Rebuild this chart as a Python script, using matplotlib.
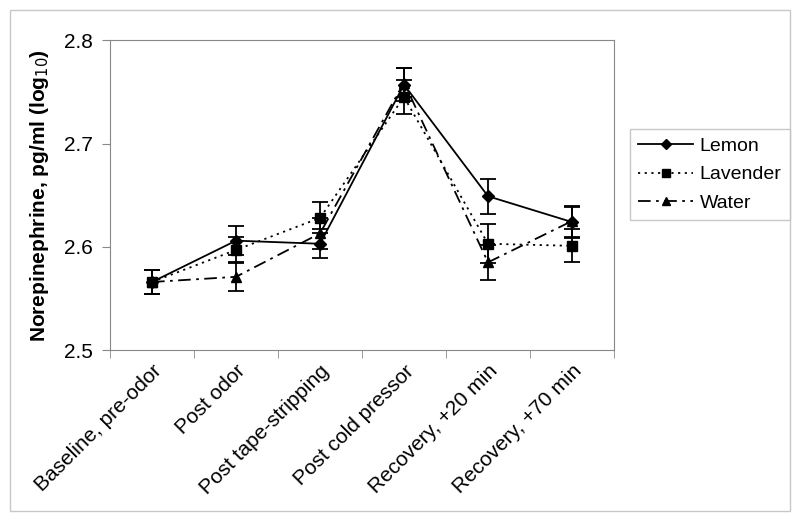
import numpy as np
import matplotlib.pyplot as plt
import matplotlib.transforms as mtransforms
from matplotlib.patches import Rectangle
from matplotlib.lines import Line2D

# data
categories = ['Baseline, pre-odor', 'Post odor', 'Post tape-stripping',
              'Post cold pressor', 'Recovery, +20 min', 'Recovery, +70 min']
lemon = [2.566, 2.606, 2.603, 2.757, 2.649, 2.624]
lemon_err = [0.012, 0.014, 0.014, 0.016, 0.017, 0.015]
lavender = [2.566, 2.597, 2.628, 2.745, 2.603, 2.601]
lavender_err = [0.012, 0.013, 0.015, 0.016, 0.019, 0.016]
water = [2.566, 2.571, 2.613, 2.759, 2.585, 2.625]
water_err = [0.012, 0.014, 0.015, 0.014, 0.017, 0.015]
yticks = [2.5, 2.6, 2.7, 2.8]

plt.rcParams['font.family'] = ['Liberation Sans', 'DejaVu Sans']

fig = plt.figure(figsize=(8, 5.15), dpi=100)
# light frame around the whole chart
fig.patches.append(Rectangle((0.013, 0.008), 0.975, 0.972, transform=fig.transFigure,
                             fill=False, edgecolor='#c8c8c8', lw=1))
ax = fig.add_axes([0.1375, 0.320, 0.63, 0.602])

x = np.arange(len(categories))
series = [
    ('Lemon', lemon, lemon_err, '-', 'D', 6),
    ('Lavender', lavender, lavender_err, (0, (1.2, 2.5)), 's', 7),
    ('Water', water, water_err, (0, (7, 3, 1.5, 3)), '^', 7),
]
handles = []
for name, vals, err, ls, mk, ms in series:
    ax.errorbar(x, vals, yerr=err, color='black', linestyle=ls, linewidth=1.3,
                marker=mk, markersize=ms, capsize=6, capthick=1.3, elinewidth=1.3)
    handles.append(Line2D([], [], color='black', linestyle=ls, linewidth=1.3,
                          marker=mk, markersize=ms - 1, label=name))

ax.set_xlim(-0.5, len(categories) - 0.5)
ax.set_ylim(2.5, 2.8)
ax.set_yticks(yticks)
ax.set_yticklabels([f'{v:.1f}' for v in yticks], fontsize=15)
ax.set_xticks(x)
ax.set_xticklabels(categories, rotation=45, ha='right', rotation_mode='anchor',
                   fontsize=15)
shift = mtransforms.ScaledTranslation(-5 / 100, 0, fig.dpi_scale_trans)
for lbl in ax.get_xticklabels():
    lbl.set_transform(lbl.get_transform() + shift)
ax.set_xticks(np.arange(-0.5, len(categories), 1.0), minor=True)
ax.tick_params(axis='x', which='major', length=0, pad=8)
ax.tick_params(axis='x', which='minor', length=6, color='#888888')
ax.tick_params(axis='y', length=6, color='#888888', pad=6)
for s in ax.spines.values():
    s.set_color('#888888')

ax.set_ylabel('Norepinephrine, pg/ml (log$_{10}$)', fontsize=15, fontweight='bold',
              labelpad=10)

fig.legend(handles=handles, loc='upper left', bbox_to_anchor=(0.787, 0.75),
           fontsize=14, frameon=True, fancybox=False, edgecolor='#bbbbbb',
           handlelength=2.8, handletextpad=0.35, borderpad=0.45, labelspacing=0.55,
           borderaxespad=0)

fig.savefig('out.png', dpi=100)
